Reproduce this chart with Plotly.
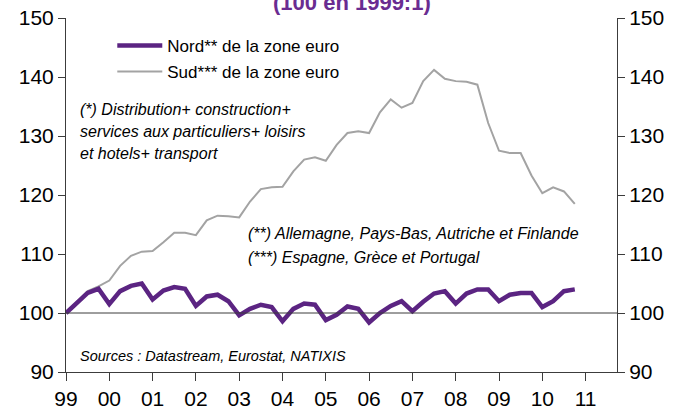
import plotly.graph_objects as go

# Quarterly data 1999:1 -> 2010:4 (index 100 in 1999:1)
start_year = 1999
nord = [100.0, 101.7, 103.4, 104.1, 101.5, 103.7, 104.6, 105.0,
        102.3, 103.8, 104.4, 104.1, 101.2, 102.8, 103.1, 102.0,
        99.6, 100.7, 101.4, 101.0, 98.6, 100.7, 101.6, 101.4,
        98.8, 99.7, 101.1, 100.7, 98.4, 100.0, 101.2, 102.0,
        100.3, 101.9, 103.3, 103.7, 101.6, 103.3, 104.0, 104.0,
        102.0, 103.1, 103.4, 103.4, 101.0, 102.0, 103.7, 104.0]
sud = [100.0, 101.8, 103.7, 104.5, 105.5, 108.0, 109.7, 110.4,
       110.5, 112.0, 113.6, 113.6, 113.2, 115.7, 116.5, 116.4,
       116.2, 118.9, 121.0, 121.3, 121.4, 124.0, 126.0, 126.4,
       125.8, 128.5, 130.5, 130.8, 130.5, 134.0, 136.2, 134.8,
       135.6, 139.3, 141.2, 139.7, 139.3, 139.2, 138.7, 132.2,
       127.5, 127.1, 127.1, 123.3, 120.3, 121.3, 120.6, 118.5]
quarters = [start_year + i / 4 for i in range(len(nord))]

year_ticks = list(range(1999, 2012))
year_labels = ["99", "00", "01", "02", "03", "04", "05", "06", "07", "08", "09", "10", "11"]
y_ticks = [90, 100, 110, 120, 130, 140, 150]

PURPLE = "#5B2482"
GREY = "#A3A3A3"
AXIS = "#3C3C3C"
FONT = "Liberation Sans, Arial, sans-serif"

fig = go.Figure()
fig.add_trace(go.Scatter(x=quarters, y=sud, mode="lines", name="Sud*** de la zone euro",
                         line=dict(color=GREY, width=2), legend="legend2"))
fig.add_trace(go.Scatter(x=quarters, y=nord, mode="lines", name="Nord** de la zone euro",
                         line=dict(color=PURPLE, width=4.5), legend="legend"))
# invisible trace to activate right axis
fig.add_trace(go.Scatter(x=[quarters[0]], y=[nord[0]], yaxis="y2", mode="lines",
                         line=dict(width=0), showlegend=False, hoverinfo="skip"))

fig.add_shape(type="line", xref="paper", x0=0, x1=1, yref="y", y0=100, y1=100,
              line=dict(color=AXIS, width=1))

axis_common = dict(range=[90, 150], tickvals=y_ticks, ticks="outside", ticklen=7,
                   tickcolor=AXIS, showline=True, linecolor=AXIS, linewidth=1,
                   showgrid=False, zeroline=False, automargin=False,
                   tickfont=dict(family=FONT, size=21, color="#000000"))

fig.update_layout(
    width=685, height=416,
    margin=dict(l=66, r=68, t=18, b=44),
    paper_bgcolor="white", plot_bgcolor="white",
    font=dict(family=FONT, color="#000000"),
    xaxis=dict(range=[1999, 2011.725], tickvals=year_ticks, ticktext=year_labels,
               ticks="outside", ticklen=8, tickcolor=AXIS, showline=True,
               linecolor=AXIS, linewidth=1, showgrid=False, zeroline=False,
               automargin=False,
               tickfont=dict(family=FONT, size=21, color="#000000")),
    yaxis=dict(side="left", **axis_common),
    yaxis2=dict(side="right", overlaying="y", **axis_common),
    legend=dict(x=0.084, y=(372 - 46) / 354, xanchor="left", yanchor="middle",
                itemwidth=45,
                bgcolor="rgba(0,0,0,0)", font=dict(family=FONT, size=17, color="#000000")),
    legend2=dict(x=0.084, y=(372 - 72) / 354, xanchor="left", yanchor="middle",
                 itemwidth=45,
                 bgcolor="rgba(0,0,0,0)", font=dict(family=FONT, size=17, color="#000000")),
    showlegend=True,
)

def note(text, x_px, y_px, size):
    fig.add_annotation(text=text, xref="paper", yref="paper",
                       x=(x_px - 66) / 551, y=(372 - y_px) / 354,
                       xanchor="left", yanchor="middle", showarrow=False,
                       font=dict(family=FONT, size=size, color="#000000", style="italic"))

note("(*) Distribution+ construction+", 78, 109, 16)
note("services aux particuliers+ loisirs", 78, 131, 16)
note("et hotels+ transport", 78, 153, 16)
note("(**) Allemagne, Pays-Bas, Autriche et Finlande", 246, 233, 16)
note("(***) Espagne, Grèce et Portugal", 246, 257, 16)
note("Sources : Datastream, Eurostat, NATIXIS", 78, 356, 14.5)

fig.add_annotation(text="<b>(100 en 1999:1)</b>", xref="paper", yref="paper",
                   x=(352 - 66) / 551, y=(372 - 3) / 354, xanchor="center", yanchor="middle",
                   showarrow=False, font=dict(family=FONT, size=22, color="#6A2C91"))

# remove the page's default body margin so the figure fills the window
fig.write_html("out.html", config={"displayModeBar": False},
               post_script="document.body.style.margin='0';")
